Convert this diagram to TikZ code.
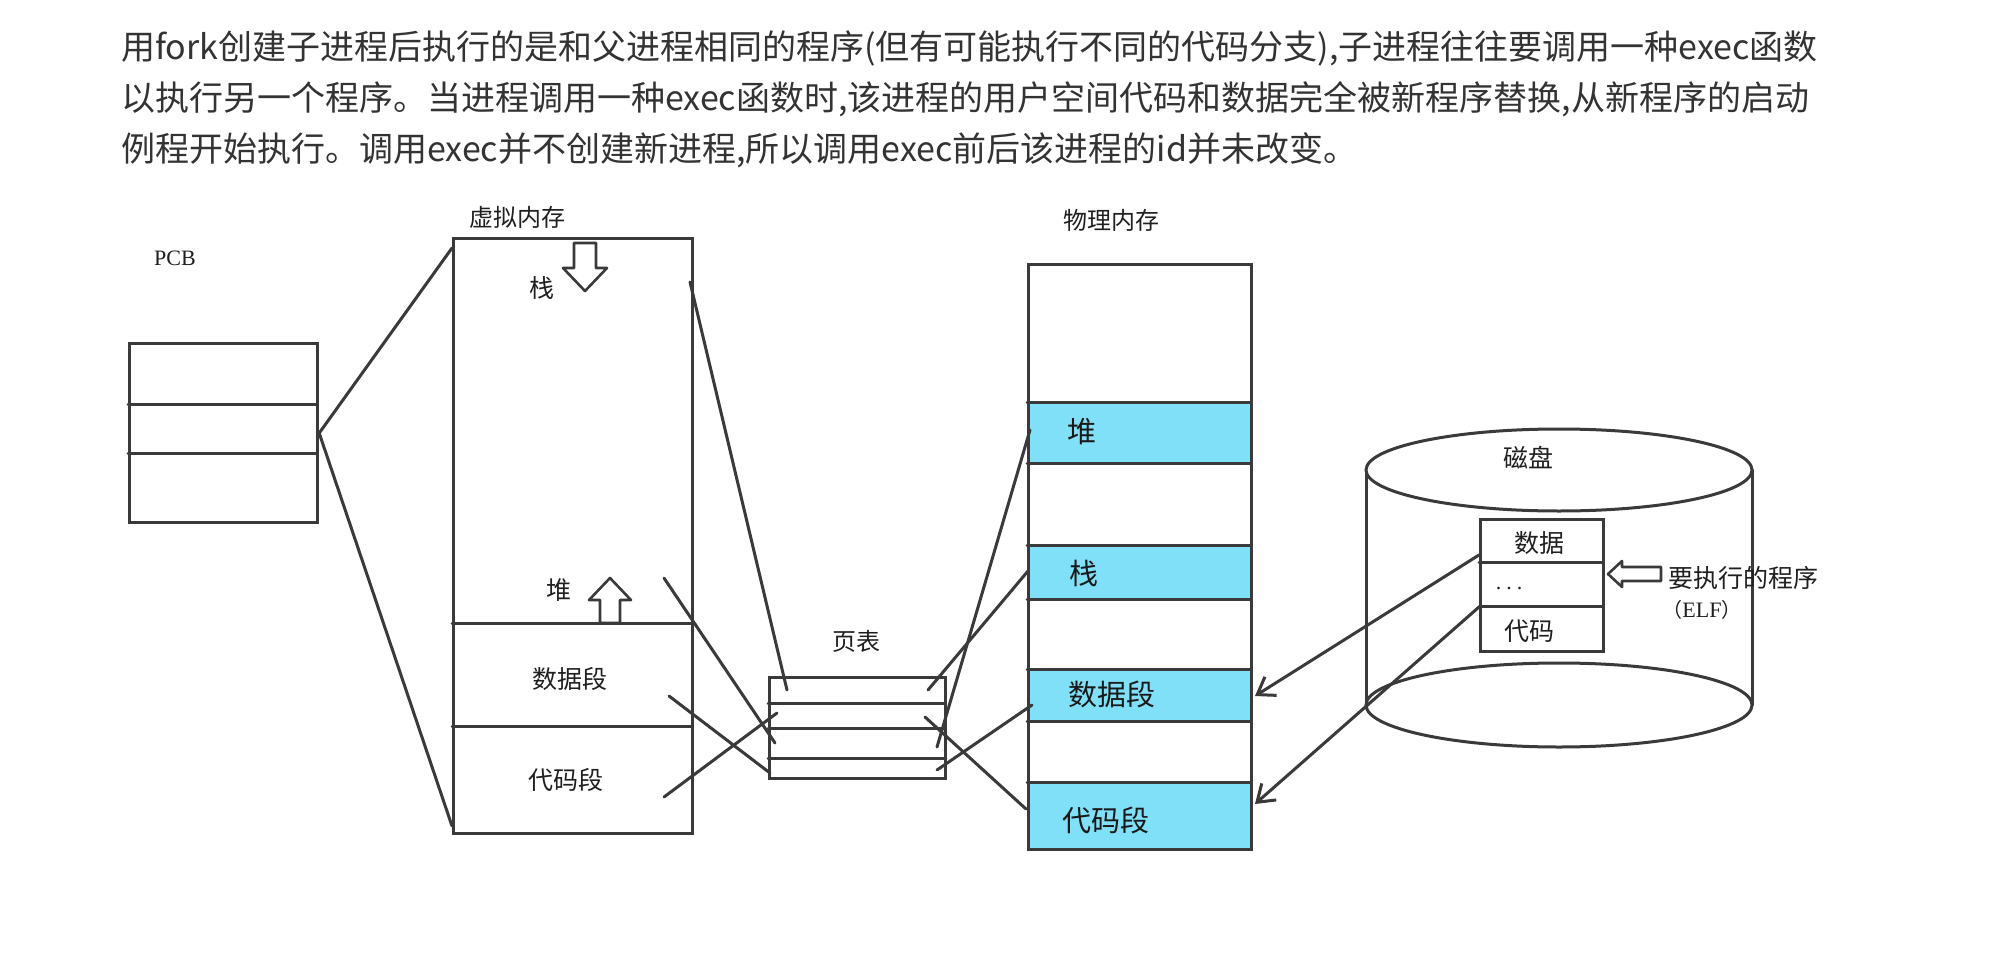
\documentclass[tikz,border=0pt]{standalone}
\usepackage{fontspec}
\setmainfont{Liberation Serif}
\newfontfamily\cjk{Noto Sans CJK SC}
\usetikzlibrary{arrows.meta}
\definecolor{memcyan}{HTML}{80E0F8}
\definecolor{inkc}{HTML}{3A3A3A}
\definecolor{hdrc}{HTML}{333333}
\begin{document}
\begin{tikzpicture}[x=1pt,y=-1pt,
  ln/.style={draw=inkc, line width=3pt, line cap=round},
  arr/.style={ln, -{Straight Barb[length=16pt,width=22pt,line width=3pt]}},
  boxc/.style={draw=inkc, line width=3.2pt, inner sep=0pt, anchor=north west},
  hdr/.style={anchor=west, inner sep=0pt, text=hdrc, font=\cjk\fontsize{34}{34}\selectfont},
  lbl/.style={inner sep=0pt, text=black!88, font=\cjk\fontsize{25}{25}\selectfont},
  biglbl/.style={inner sep=0pt, text=black!90, font=\cjk\fontsize{29}{29}\selectfont},
  serlbl/.style={inner sep=0pt, text=black!88, font=\fontsize{22}{22}\selectfont},
  hollow/.style={draw=inkc, line width=2.6pt, fill=white, line join=round}
]
\useasboundingbox (0,0) rectangle (1991,971);
\fill[white] (0,0) rectangle (1991,971);

% header
\node[hdr] (h1) at (121,48) {用fork创建子进程后执行的是和父进程相同的程序(但有可能执行不同的代码分支),子进程往往要调用一种exec函数};
\node[hdr] (h2) at (121,99) {以执行另一个程序。当进程调用一种exec函数时,该进程的用户空间代码和数据完全被新程序替换,从新程序的启动};
\node[hdr] (h3) at (121,150) {例程开始执行。调用exec并不创建新进程,所以调用exec前后该进程的id并未改变。};

% PCB
\node[serlbl] (pcbt) at (175,258) {PCB};
\node[boxc, minimum width=188pt, minimum height=179pt] (pcb) at (128,342) {};
\draw[ln] (128,404) -- (316,404);
\draw[ln] (128,453) -- (316,453);

% virtual memory
\node[lbl, font=\cjk\fontsize{24}{24}\selectfont] (vmt) at (517,217) {虚拟内存};
\node[boxc, minimum width=239pt, minimum height=595pt] (vm) at (452,237) {};
\draw[ln] (452,623) -- (691,623);
\draw[ln] (452,726) -- (691,726);
\node[lbl] (vstack) at (542,288) {栈};
\node[lbl] (vheap) at (559,590) {堆};
\node[lbl] (vdata) at (570,679) {数据段};
\node[lbl] (vcode) at (566,780) {代码段};
\draw[hollow] (574,243) -- (596,243) -- (596,268) -- (607,268) -- (585,291) -- (563,268) -- (574,268) -- cycle;
\draw[hollow] (610,578) -- (631,600) -- (620,600) -- (620,623) -- (600,623) -- (600,600) -- (589,600) -- cycle;

% PCB to VM
\coordinate (vmtl) at (452,248);
\coordinate (vmbl) at (452,826);
\draw[ln] (pcb.east) -- (vmtl);
\draw[ln] (pcb.east) -- (vmbl);

% page table
\node[lbl, font=\cjk\fontsize{24}{24}\selectfont] (ptt) at (856,641) {页表};
\node[boxc, minimum width=176pt, minimum height=101pt] (pt) at (768,676) {};
\draw[ln] (768,703) -- (944,703);
\draw[ln] (768,728) -- (944,728);
\draw[ln] (768,758) -- (944,758);

% physical memory
\node[lbl, font=\cjk\fontsize{24}{24}\selectfont] (pmt) at (1111,220) {物理内存};
\fill[memcyan] (1027,402) rectangle (1250,463);
\fill[memcyan] (1027,545) rectangle (1250,599);
\fill[memcyan] (1027,669) rectangle (1250,721);
\fill[memcyan] (1027,782) rectangle (1250,848);
\node[boxc, minimum width=223pt, minimum height=585pt] (pm) at (1027,263) {};
\foreach \yy in {402,463,545,599,669,721,782}
  \draw[ln] (1027,\yy) -- (1250,\yy);
\node[biglbl] (pheap) at (1082,432) {堆};
\node[biglbl] (pstack) at (1084,573) {栈};
\node[biglbl] (pdata) at (1112,694) {数据段};
\node[biglbl] (pcode) at (1106,820) {代码段};

% VM -> page table
\coordinate (a1) at (690,282);  \coordinate (b1) at (787,690);
\coordinate (a2) at (664,578);  \coordinate (b2) at (775,743);
\coordinate (a3) at (669,696);  \coordinate (b3) at (770,773);
\coordinate (a4) at (664,797);  \coordinate (b4) at (777,713);
\draw[ln] (a1) -- (b1);
\draw[ln] (a2) -- (b2);
\draw[ln] (a3) -- (b3);
\draw[ln] (a4) -- (b4);

% page table -> physical
\coordinate (p1) at (928,690);  \coordinate (q1) at (1028,571);
\coordinate (p2) at (937,747);  \coordinate (q2) at (1030,430);
\coordinate (p3) at (937,770);  \coordinate (q3) at (1032,705);
\coordinate (p4) at (925,717);  \coordinate (q4) at (1026,809);
\draw[ln] (p1) -- (q1);
\draw[ln] (p2) -- (q2);
\draw[ln] (p3) -- (q3);
\draw[ln] (p4) -- (q4);

% disk
\draw[ln] (1366,470) -- (1366,705);
\draw[ln] (1752,470) -- (1752,705);
\draw[ln, fill=white] (1559,470) ellipse [x radius=193pt, y radius=41pt];
\draw[ln] (1559,705) ellipse [x radius=193pt, y radius=42pt];
\node[lbl] (diskt) at (1528,458) {磁盘};
\node[boxc, minimum width=123pt, minimum height=132pt, fill=white] (db) at (1479,518) {};
\draw[ln] (1479,562) -- (1602,562);
\draw[ln] (1479,606) -- (1602,606);
\node[lbl] (ddata) at (1539,543) {数据};
\node[serlbl] (ddots) at (1509,589) {.\hspace{5pt}.\hspace{5pt}.};
\node[lbl] (dcode) at (1529,631) {代码};
\draw[hollow] (1608,574) -- (1622,561) -- (1622,567) -- (1661,567) -- (1661,581) -- (1622,581) -- (1622,587) -- cycle;
\node[lbl, anchor=west] (exe) at (1668,578) {要执行的程序};
\node[serlbl] (elf) at (1702,610) {{\cjk\fontsize{20}{20}\selectfont （}ELF{\cjk\fontsize{20}{20}\selectfont ）}};

% disk -> physical
\coordinate (s1) at (1479,555);  \coordinate (t1) at (1255,696);
\coordinate (s2) at (1479,607);  \coordinate (t2) at (1255,804);
\draw[arr] (s1) -- (t1);
\draw[arr] (s2) -- (t2);
\end{tikzpicture}
\end{document}
